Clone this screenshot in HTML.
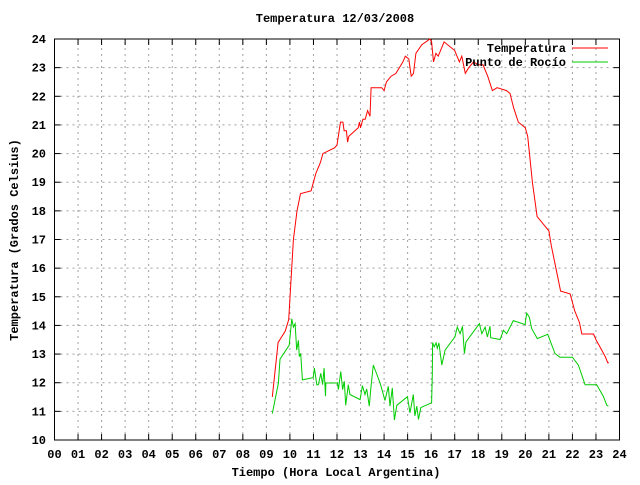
<!DOCTYPE html>
<html><head><meta charset="utf-8"><style>
html,body{margin:0;padding:0;background:#fff;}
svg text{font-family:"Liberation Mono","DejaVu Sans Mono",monospace;font-size:12px;font-weight:bold;fill:#000;}
</style></head><body>
<svg id="chart" width="640" height="480" xmlns="http://www.w3.org/2000/svg">
<text x="335" y="22" text-anchor="middle">Temperatura 12/03/2008</text>
<g id="grid"></g>
<g id="ticks"></g>
<rect x="54.5" y="39" width="565" height="401" fill="none" stroke="#000" stroke-width="1"/>
<text transform="translate(18,240) rotate(-90)" text-anchor="middle">Temperatura (Grados Celsius)</text>
<text x="336" y="476" text-anchor="middle">Tiempo (Hora Local Argentina)</text>
<g id="series"></g>
<g>
<text x="566" y="52" text-anchor="end">Temperatura</text>
<line x1="572" y1="48" x2="608" y2="48" stroke="#f00"/>
<text x="566" y="66" text-anchor="end">Punto de Rocío</text>
<line x1="572" y1="62" x2="608" y2="62" stroke="#0c0"/>
</g>
</svg>
<script>
const tempHours=[9.25,9.5,9.8,9.95,10.15,10.3,10.45,10.9,11.1,11.3,11.4,11.9,12.0,12.15,12.25,12.3,12.4,12.45,12.5,12.9,12.95,13.0,13.1,13.2,13.3,13.4,13.45,13.9,14.0,14.1,14.2,14.3,14.5,14.8,14.9,15.05,15.15,15.25,15.35,15.6,15.95,16.02,16.1,16.2,16.3,16.55,17.0,17.2,17.3,17.45,17.6,17.8,18.0,18.2,18.4,18.6,18.8,19.2,19.35,19.5,19.7,20.0,20.1,20.3,20.5,20.8,21.0,21.1,21.3,21.5,21.9,22.1,22.3,22.4,22.9,23.0,23.2,23.4,23.5,23.55];
const tempValues=[11.5,13.4,13.8,14.2,17.0,18.0,18.6,18.7,19.3,19.7,20.0,20.2,20.3,21.1,21.1,20.8,20.8,20.4,20.6,20.9,21.1,20.9,21.2,21.2,21.5,21.3,22.3,22.3,22.2,22.5,22.6,22.7,22.8,23.2,23.4,23.3,22.7,22.8,23.5,23.8,24.0,23.9,23.2,23.5,23.4,23.9,23.6,23.2,23.4,22.8,23.0,23.2,23.1,23.1,22.7,22.2,22.3,22.2,22.1,21.6,21.1,20.9,20.6,19.0,17.8,17.5,17.3,16.8,16.0,15.2,15.1,14.5,14.1,13.7,13.7,13.5,13.2,12.9,12.7,12.7];
const dewHours=[9.25,9.51,9.58,9.97,10.08,10.15,10.22,10.29,10.36,10.40,10.46,10.53,10.99,11.04,11.14,11.21,11.31,11.39,11.45,11.51,11.53,12.02,12.06,12.16,12.24,12.31,12.37,12.48,12.55,12.98,13.08,13.19,13.26,13.37,13.43,13.54,13.83,14.04,14.18,14.25,14.35,14.44,14.54,14.99,15.10,15.24,15.31,15.39,15.46,15.56,16.02,16.05,16.06,16.13,16.21,16.26,16.33,16.45,16.59,17.01,17.11,17.23,17.33,17.41,17.48,18.05,18.15,18.29,18.39,18.50,18.53,18.93,19.07,19.21,19.28,19.49,19.99,20.06,20.17,20.27,20.51,20.95,21.26,21.47,22.00,22.25,22.54,23.03,23.31,23.46,23.53];
const dewValues=[10.92,11.99,12.82,13.31,14.23,13.94,14.06,13.14,13.48,12.91,13.02,12.10,12.18,12.51,11.93,11.93,12.33,11.93,12.51,11.53,11.99,11.99,11.76,12.39,11.76,12.05,11.21,11.93,11.59,11.41,11.90,11.59,11.78,11.18,11.76,12.62,11.99,11.38,11.87,11.18,11.82,10.70,11.21,11.51,10.95,11.59,10.84,11.18,10.72,11.13,11.30,12.28,13.40,13.25,13.39,13.20,13.39,12.62,13.14,13.60,13.94,13.71,13.97,13.02,13.43,14.06,13.71,13.94,13.60,13.97,13.57,13.51,13.83,13.71,13.83,14.17,14.03,14.43,14.29,13.89,13.54,13.69,13.02,12.89,12.89,12.62,11.93,11.93,11.53,11.21,11.18];
const xTickLabels=["00","01","02","03","04","05","06","07","08","09","10","11","12","13","14","15","16","17","18","19","20","21","22","23","24"];
const yTickLabels=["10","11","12","13","14","15","16","17","18","19","20","21","22","23","24"];

const X0=54.5,X1=619.5,Y0=440,Y1=39;
const xScale=h=>X0+(h/24)*(X1-X0);
const yScale=v=>Y0-(v-10)/14*(Y0-Y1);
const NS="http://www.w3.org/2000/svg";
const grid=document.getElementById('grid'),ticks=document.getElementById('ticks'),series=document.getElementById('series');
function mk(tag,attrs,parent){const e=document.createElementNS(NS,tag);for(const k in attrs)e.setAttribute(k,attrs[k]);parent.appendChild(e);return e;}
xTickLabels.forEach((lab,i)=>{
  const x=xScale(i);
  if(i>0&&i<24){const g=mk('line',{x1:x,y1:Y0,x2:x,y2:Y1,stroke:'#a0a0a0','stroke-dasharray':'2,4'},grid);
  
  }
  const t1=mk('line',{x1:x,y1:Y0,x2:x,y2:Y0-6,stroke:'#000'},ticks);
  
  
  const t2=mk('line',{x1:x,y1:Y1,x2:x,y2:Y1+6,stroke:'#000'},ticks);
  
  
  const tx=mk('text',{x:x,y:458,'text-anchor':'middle'},ticks);tx.textContent=lab;
  
  
});
yTickLabels.forEach((lab)=>{
  const v=+lab,y=yScale(v);
  if(v>10&&v<24){const g=mk('line',{x1:X0,y1:y,x2:X1,y2:y,stroke:'#a0a0a0','stroke-dasharray':'2,4'},grid);
  
  }
  const t1=mk('line',{x1:X0,y1:y,x2:X0+6,y2:y,stroke:'#000'},ticks);
  
  
  const t2=mk('line',{x1:X1,y1:y,x2:X1-6,y2:y,stroke:'#000'},ticks);
  
  
  const tx=mk('text',{x:46,y:y+4,'text-anchor':'end'},ticks);tx.textContent=lab;
  
  
});
function line(hs,vs,color,name){
  const d=hs.map((h,i)=>(i?'L':'M')+xScale(h).toFixed(1)+','+yScale(vs[i]).toFixed(1)).join('');
  const p=mk('path',{d:d,fill:'none',stroke:color,'stroke-width':1},series);
  
  
}
line(tempHours,tempValues,'#f00','temperatura-line');
line(dewHours,dewValues,'#0c0','punto-de-rocio-line');
</script>
</body></html>
